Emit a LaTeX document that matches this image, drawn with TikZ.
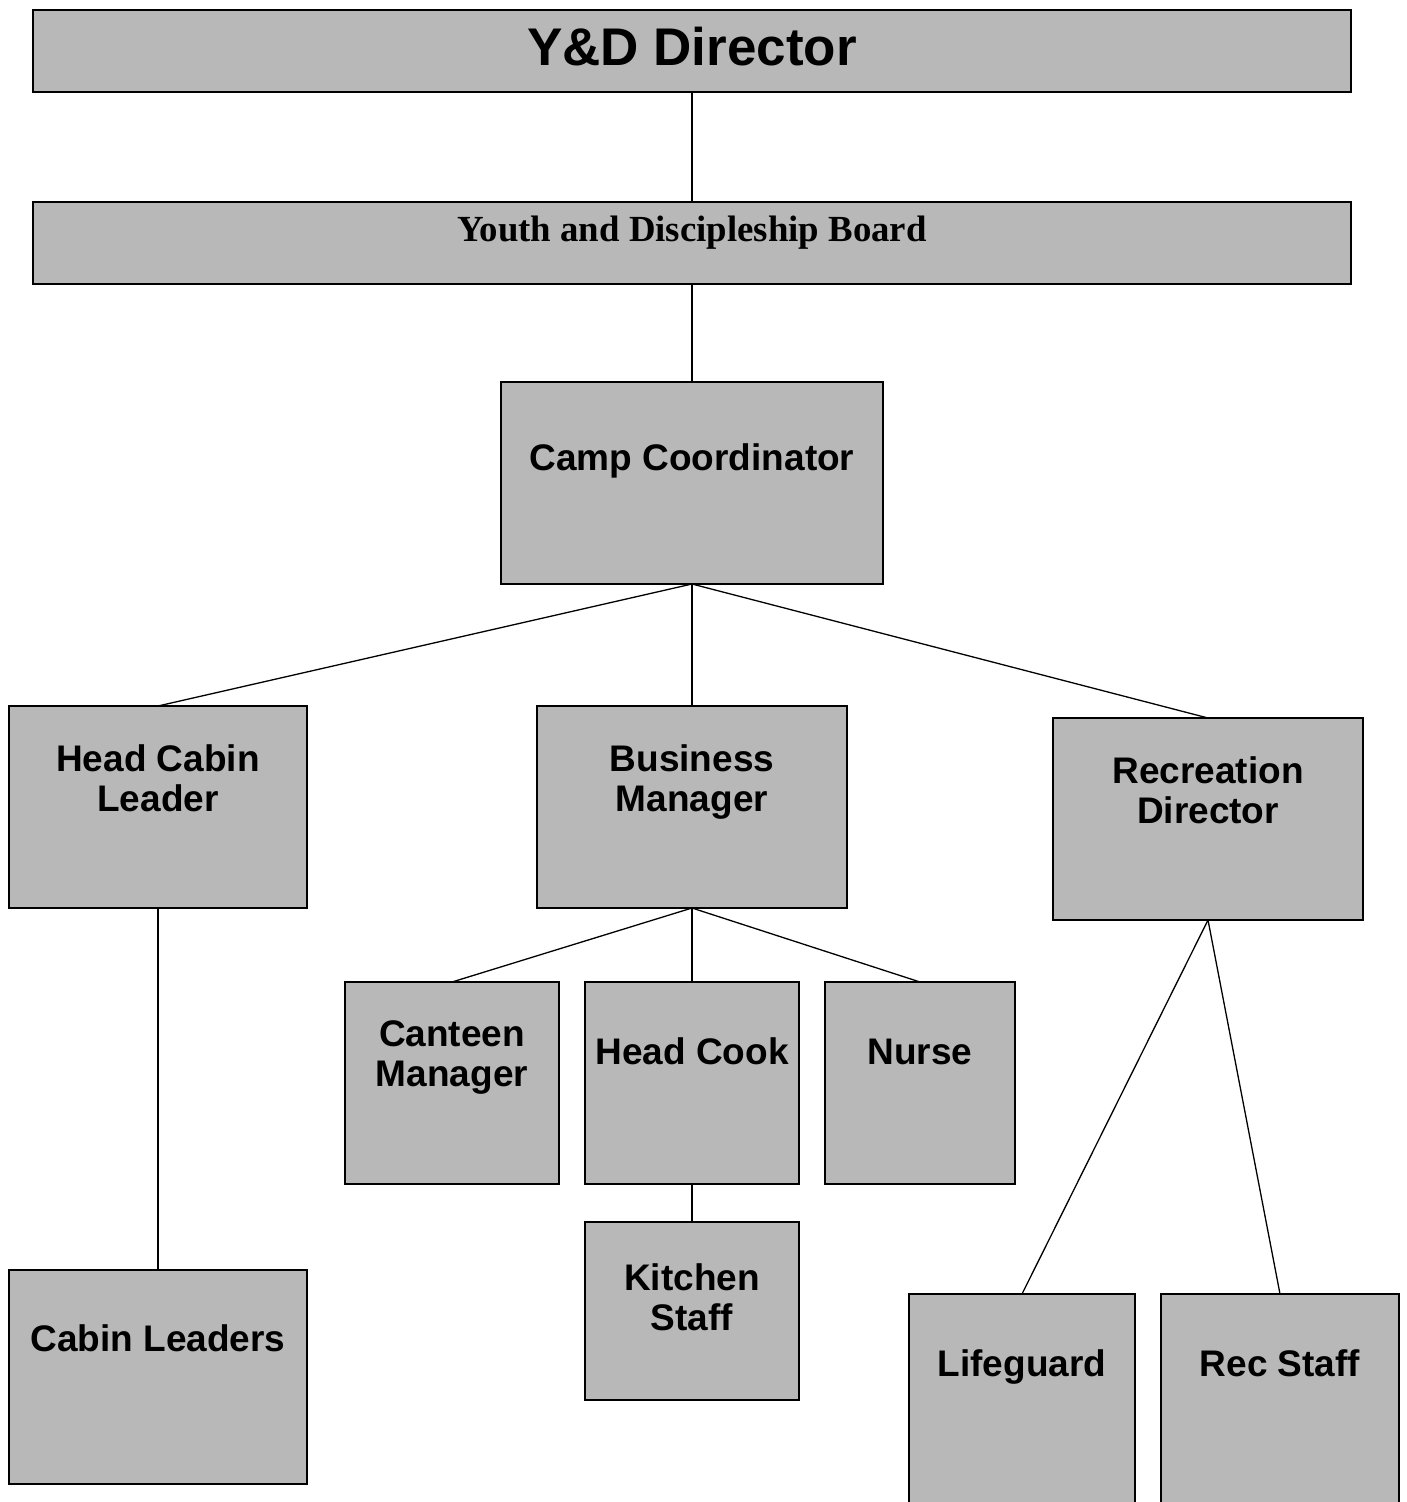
\documentclass[tikz,border=0pt]{standalone}
\usepackage{fontspec}
\setmainfont{Liberation Sans}
\newfontfamily\tms{Liberation Serif}
\definecolor{boxgray}{HTML}{B8B8B8}
\begin{document}
\begin{tikzpicture}[x=0.5pt,y=-0.5pt,
  box/.style={draw=black, line width=0.8pt, fill=boxgray},
  conn/.style={draw=black, line width=0.65pt},
  lbl/.style={font=\bfseries\fontsize{18.5}{20}\selectfont, align=center, inner sep=0pt}]
\useasboundingbox (0,0) rectangle (1406,1502);
\clip (0,0) rectangle (1406,1502);
\fill[white] (0,0) rectangle (1406,1502);
% boxes
\path[box] (33,10) rectangle (1351,92);
\coordinate (yd-s) at (692,92);
\path[box] (33,202) rectangle (1351,284);
\coordinate (yb-n) at (692,202); \coordinate (yb-s) at (692,284);
\path[box] (501,382) rectangle (883,584);
\coordinate (cc-n) at (692,382); \coordinate (cc-s) at (692,584);
\path[box] (9,706) rectangle (307,908);
\coordinate (hcl-n) at (158,706); \coordinate (hcl-s) at (158,908);
\path[box] (537,706) rectangle (847,908);
\coordinate (bm-n) at (692,706); \coordinate (bm-s) at (692,908);
\path[box] (1053,718) rectangle (1363,920);
\coordinate (rd-n) at (1208,718); \coordinate (rd-s) at (1208,920);
\path[box] (345,982) rectangle (559,1184);
\coordinate (cm-n) at (452,982);
\path[box] (585,982) rectangle (799,1184);
\coordinate (hc-n) at (692,982); \coordinate (hc-s) at (692,1184);
\path[box] (825,982) rectangle (1015,1184);
\coordinate (nu-n) at (920,982);
\path[box] (585,1222) rectangle (799,1400);
\coordinate (ks-n) at (692,1222);
\path[box] (9,1270) rectangle (307,1484);
\coordinate (cl-n) at (158,1270);
\path[box] (909,1294) rectangle (1135,1530);
\coordinate (lg-n) at (1022,1294);
\path[box] (1161,1294) rectangle (1399,1530);
\coordinate (rs-n) at (1280,1294);
% labels
\node[lbl, font=\bfseries\fontsize{26.5}{28}\selectfont, anchor=base] (tyd) at (692,66) {Y\&D Director};
\node[lbl, font=\tms\bfseries\fontsize{18.4}{20}\selectfont, anchor=base] (tyb) at (692,242) {Youth and Discipleship Board};
\node[lbl, anchor=base] (tcc) at (692,470) {Camp Coordinator};
\node[lbl] (thcl) at (158,778) {Head Cabin\\Leader};
\node[lbl] (tbm) at (692,782) {Business\\Manager};
\node[lbl] (trd) at (1208,790) {Recreation\\Director};
\node[lbl] (tcm) at (452,1057) {Canteen\\Manager};
\node[lbl, anchor=base] (thc) at (692,1064) {Head Cook};
\node[lbl, anchor=base] (tnu) at (920,1064) {Nurse};
\node[lbl] (tks) at (692,1297) {Kitchen\\Staff};
\node[lbl, anchor=base] (tcl) at (158,1351) {Cabin Leaders};
\node[lbl, anchor=base] (tlg) at (1022,1376) {Lifeguard};
\node[lbl, anchor=base] (trs) at (1280,1376) {Rec Staff};
% connectors
\draw[conn] (yd-s) -- (yb-n);
\draw[conn] (yb-s) -- (cc-n);
\draw[conn] (cc-s) -- (hcl-n);
\draw[conn] (cc-s) -- (bm-n);
\draw[conn] (cc-s) -- (rd-n);
\draw[conn] (bm-s) -- (cm-n);
\draw[conn] (bm-s) -- (hc-n);
\draw[conn] (bm-s) -- (nu-n);
\draw[conn] (hc-s) -- (ks-n);
\draw[conn] (hcl-s) -- (cl-n);
\draw[conn] (rd-s) -- (lg-n);
\draw[conn] (rd-s) -- (rs-n);
\end{tikzpicture}
\end{document}
